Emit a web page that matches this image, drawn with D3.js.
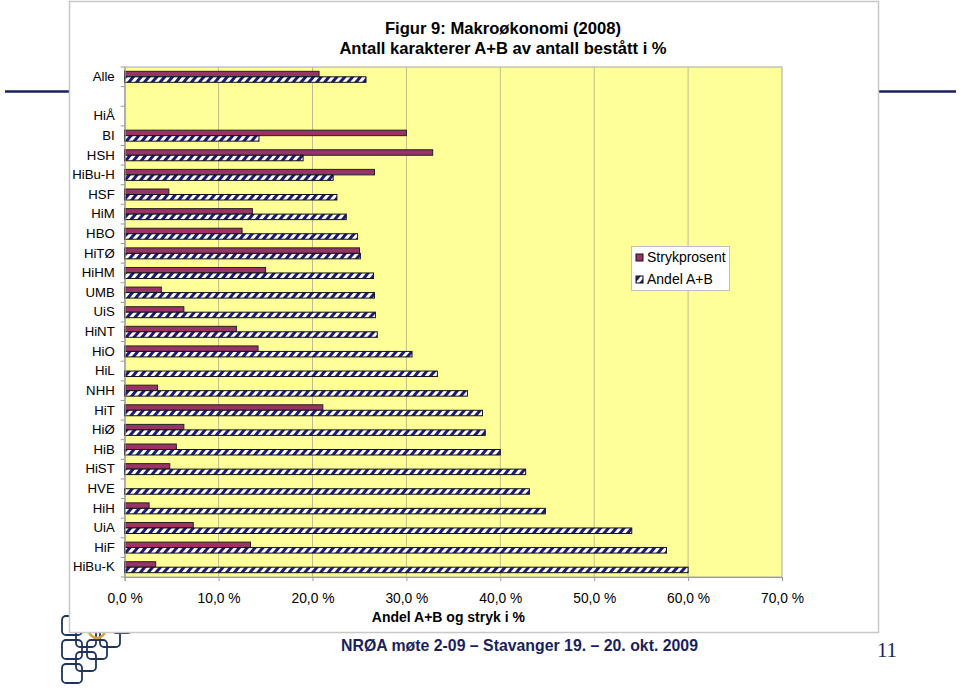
<!DOCTYPE html>
<html>
<head>
<meta charset="utf-8">
<script src="https://cdn.jsdelivr.net/npm/d3@7/dist/d3.min.js"></script>
<style>
  html, body { margin: 0; padding: 0; background: #fff; }
  svg { display: block; font-family: "Liberation Sans", Arial, sans-serif; }
</style>
</head>
<body>
<svg id="chart" width="960" height="691"></svg>
<script>
// ---------- DATA ----------
const categories = ["Alle", " ", "HiÅ", "BI", "HSH", "HiBu-H", "HSF", "HiM", "HBO", "HiTØ", "HiHM", "UMB", "UiS", "HiNT", "HiO", "HiL", "NHH", "HiT", "HiØ", "HiB", "HiST", "HVE", "HiH", "UiA", "HiF", "HiBu-K"];
const strykprosent = [20.7, null, null, 30.0, 32.8, 26.6, 4.7, 13.6, 12.5, 25.0, 15.0, 3.9, 6.3, 11.9, 14.2, null, 3.5, 21.1, 6.3, 5.5, 4.8, null, 2.6, 7.3, 13.4, 3.3];
const andelAB = [25.7, null, null, 14.3, 19.0, 22.2, 22.6, 23.6, 24.8, 25.1, 26.5, 26.6, 26.7, 26.9, 30.6, 33.3, 36.5, 38.1, 38.4, 40.0, 42.7, 43.1, 44.8, 54.0, 57.7, 60.0];
const seriesNames = ["Strykprosent", "Andel A+B"];
const xTicks = [0, 10, 20, 30, 40, 50, 60, 70];
const titleLines = ["Figur 9: Makroøkonomi (2008)", "Antall karakterer A+B av antall bestått i %"];
const xAxisTitle = "Andel A+B og stryk i %";
const footerText = "NRØA møte 2-09 – Stavanger 19. – 20. okt. 2009";
const pageNumber = "11";

// ---------- SETUP ----------
const svg = d3.select("#chart");
const navy = "#1a1f5e";
const maroon = "#993366";

const defs = svg.append("defs");
const pat = defs.append("pattern")
  .attr("id", "hatch").attr("patternUnits", "userSpaceOnUse")
  .attr("width", 6).attr("height", 6)
  .attr("patternTransform", "rotate(40)");
pat.append("rect").attr("width", 6).attr("height", 6).attr("fill", "#fff");
pat.append("rect").attr("x", 0).attr("y", 0).attr("width", 3).attr("height", 6).attr("fill", "#1c1c72");

// slide decoration lines
svg.append("line").attr("x1", 5).attr("x2", 69).attr("y1", 91.5).attr("y2", 91.5)
  .attr("stroke", navy).attr("stroke-width", 2.5);
svg.append("line").attr("x1", 879).attr("x2", 956).attr("y1", 91.5).attr("y2", 91.5)
  .attr("stroke", navy).attr("stroke-width", 2.5);

// logo (decorative, behind the chart box)
const logo = svg.append("g").attr("fill", "none").attr("stroke", "#1f3560").attr("stroke-width", 1.8);
[[62,616],[62,640],[62,664],[76,652],[87,640],[76,628],[100,628],[112,614]].forEach(([lx, ly]) => {
  logo.append("rect").attr("x", lx).attr("y", ly).attr("width", 20).attr("height", 19).attr("rx", 4);
});
svg.append("circle").attr("cx", 97).attr("cy", 630).attr("r", 8).attr("fill", "none")
  .attr("stroke", "#e0a030").attr("stroke-width", 2.5);

// chart box
svg.append("rect").attr("x", 69.5).attr("y", 1.5).attr("width", 809).attr("height", 631)
  .attr("fill", "#fff").attr("stroke", "#c8c8c8").attr("stroke-width", 1.5);

// ---------- SCALES ----------
const plot = { left: 124.7, right: 782, top: 67, bottom: 577 };
const x = d3.scaleLinear().domain([0, 70]).range([plot.left, plot.right]);
const y = d3.scaleBand().domain(categories).range([plot.top, plot.bottom])
  .paddingInner(0.44).paddingOuter(0.22);
const ySub = d3.scaleBand().domain(seriesNames).range([0, y.bandwidth()]);

// plot background
svg.append("rect").attr("x", plot.left).attr("y", plot.top)
  .attr("width", plot.right - plot.left).attr("height", plot.bottom - plot.top)
  .attr("fill", "#ffff99").attr("stroke", "#a8a8a8").attr("stroke-width", 1);

// gridlines
svg.append("g").selectAll("line").data(xTicks.slice(1, -1)).join("line")
  .attr("x1", d => x(d)).attr("x2", d => x(d))
  .attr("y1", plot.top).attr("y2", plot.bottom)
  .attr("stroke", "#bdbd8a").attr("stroke-width", 1);

// ---------- BARS ----------
const rows = categories.map((c, i) => ({ c, vals: [strykprosent[i], andelAB[i]] }));
const g = svg.append("g");
rows.forEach(r => {
  r.vals.forEach((v, si) => {
    if (v == null) return;
    g.append("rect")
      .attr("x", x(0))
      .attr("y", y(r.c) + ySub(seriesNames[si]))
      .attr("width", x(v) - x(0))
      .attr("height", ySub.bandwidth())
      .attr("fill", si === 0 ? maroon : "url(#hatch)")
      .attr("stroke", si === 0 ? "#222" : "#111")
      .attr("stroke-width", 1);
  });
});

// ---------- AXES ----------
const yAxis = d3.axisLeft(y).tickSize(0).tickPadding(10);
const yg = svg.append("g").attr("transform", `translate(${plot.left},0)`).call(yAxis);
yg.select(".domain").attr("stroke", "#999");
yg.selectAll("text").attr("font-size", 13.2).attr("fill", "#000")
  .attr("font-family", "Liberation Sans, Arial, sans-serif");
// category boundary ticks
const bounds = categories.map((c, i) => plot.top + i * y.step()).concat([plot.bottom]);
svg.append("g").selectAll("line").data(bounds).join("line")
  .attr("x1", plot.left - 4).attr("x2", plot.left)
  .attr("y1", d => d).attr("y2", d => d).attr("stroke", "#999");

const xAxis = d3.axisBottom(x).tickValues(xTicks).tickSize(4).tickPadding(12)
  .tickFormat(d => d.toFixed(1).replace(".", ",") + " %");
const xg = svg.append("g").attr("transform", `translate(0,${plot.bottom})`).call(xAxis);
xg.select(".domain").attr("stroke", "#999");
xg.selectAll(".tick line").attr("stroke", "#999");
xg.selectAll("text").attr("font-size", 13.8).attr("fill", "#000")
  .attr("font-family", "Liberation Sans, Arial, sans-serif");

svg.append("text").attr("x", (plot.left + plot.right) / 2 - 5).attr("y", 622)
  .attr("text-anchor", "middle").attr("font-size", 14).attr("font-weight", "bold")
  .text(xAxisTitle);

// ---------- TITLE ----------
svg.append("g").selectAll("text").data(titleLines).join("text")
  .attr("x", 503).attr("y", (d, i) => 34 + i * 20)
  .attr("text-anchor", "middle").attr("font-size", 16.6).attr("font-weight", "bold")
  .text(d => d);

// ---------- LEGEND ----------
const lg = svg.append("g").attr("transform", "translate(631,246)");
lg.append("rect").attr("x", 0.5).attr("y", 0.5).attr("width", 98).attr("height", 44)
  .attr("fill", "#fff").attr("stroke", "#c0c0c0");
seriesNames.forEach((s, i) => {
  lg.append("rect").attr("x", 5).attr("y", 8 + i * 22).attr("width", 7).attr("height", 7)
    .attr("fill", i === 0 ? maroon : "url(#hatch)").attr("stroke", "#111");
  lg.append("text").attr("x", 16).attr("y", 16 + i * 22).attr("font-size", 14).text(s);
});

// ---------- FOOTER ----------
svg.append("text").attr("x", 341).attr("y", 651).attr("font-size", 16.5).attr("font-weight", "bold")
  .attr("fill", navy).attr("textLength", 357).attr("lengthAdjust", "spacingAndGlyphs")
  .text(footerText);
svg.append("text").attr("x", 887).attr("y", 657).attr("text-anchor", "middle")
  .attr("font-family", "Liberation Serif, serif").attr("font-size", 21).attr("fill", navy)
  .text(pageNumber);
</script>
</body>
</html>
